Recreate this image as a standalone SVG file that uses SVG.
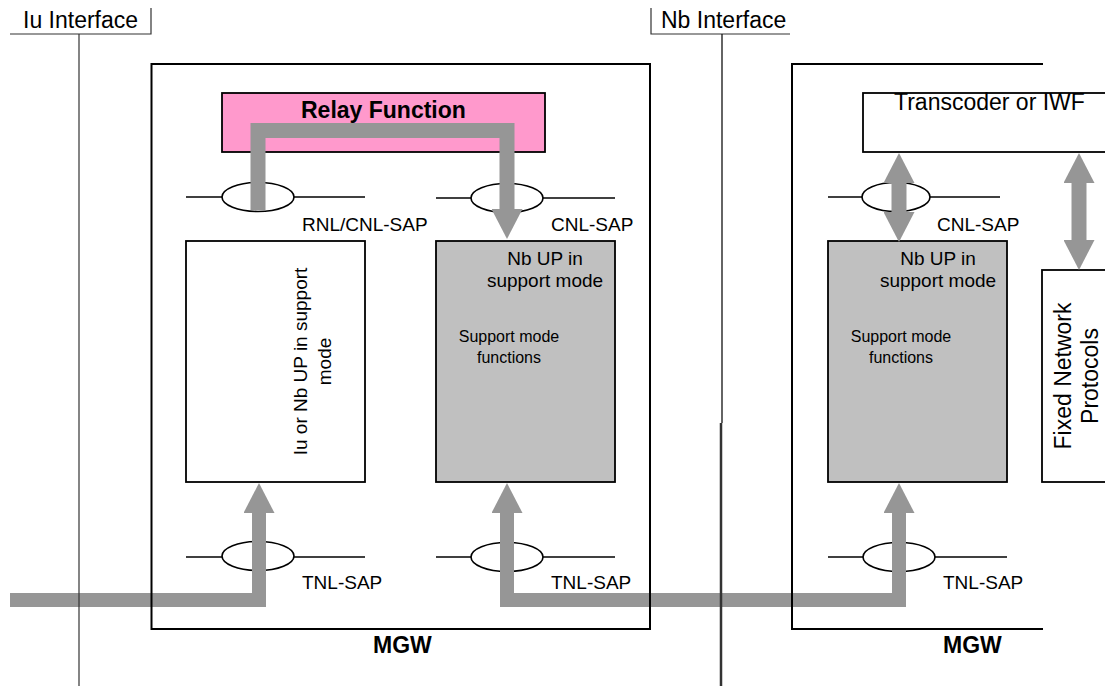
<svg xmlns="http://www.w3.org/2000/svg" width="1105" height="686" viewBox="0 0 1105 686">
<style>
text{font-family:"Liberation Sans",Arial,sans-serif;fill:#000}
.big{font-size:23px}
.bold{font-size:23px;font-weight:bold}
.lbl{font-size:19px}
.sm{font-size:16px}
.box{stroke:#000;stroke-width:1.8}
.wb{fill:#fff}
.gb{fill:#C0C0C0}
.sap{stroke:#000;stroke-width:1.6;fill:none}
.ell{stroke:#000;stroke-width:1.6;fill:#fff}
.pipe{fill:none;stroke:#969696;stroke-linejoin:miter;stroke-linecap:butt}
.frame{fill:none;stroke:#000;stroke-width:2}
.if{fill:none;stroke:#333;stroke-width:1.2}
</style>
<defs>
<marker id="ah" markerUnits="userSpaceOnUse" viewBox="0 0 30 31" markerWidth="30" markerHeight="31" refX="0" refY="15.5" orient="auto-start-reverse">
<path d="M0,0 L30,15.5 L0,31 z" fill="#969696"/>
</marker>
</defs>

<g id="relay">
<rect class="box" x="222" y="93" width="323" height="59" fill="#FF99CC"/>
<text class="bold" x="301" y="118">Relay Function</text>
</g>
<g id="transcoder">
<rect class="box wb" x="863" y="93" width="260" height="59"/>
<text class="big" x="894" y="110">Transcoder or IWF</text>
</g>
<g id="iu-up">
<rect class="box wb" x="186" y="241" width="179" height="241"/>
<text class="lbl" text-anchor="middle" transform="translate(307,361.5) rotate(-90)">Iu or Nb UP in support</text>
<text class="lbl" text-anchor="middle" transform="translate(331,361.5) rotate(-90)">mode</text>
</g>
<g id="nb-up-left">
<rect class="box gb" x="436" y="241" width="179" height="241"/>
<text class="lbl" text-anchor="middle" x="545" y="265">Nb UP in</text>
<text class="lbl" text-anchor="middle" x="545" y="287">support mode</text>
<text class="sm" text-anchor="middle" x="509" y="342">Support mode</text>
<text class="sm" text-anchor="middle" x="509" y="363">functions</text>
</g>
<g id="nb-up-right">
<rect class="box gb" x="828" y="241" width="179" height="241"/>
<text class="lbl" text-anchor="middle" x="938" y="265">Nb UP in</text>
<text class="lbl" text-anchor="middle" x="938" y="287">support mode</text>
<text class="sm" text-anchor="middle" x="901" y="342">Support mode</text>
<text class="sm" text-anchor="middle" x="901" y="363">functions</text>
</g>
<g id="fixed">
<rect class="box wb" x="1042" y="270" width="80" height="212"/>
<text class="big" text-anchor="middle" transform="translate(1071,376) rotate(-90)">Fixed Network</text>
<text class="big" text-anchor="middle" transform="translate(1098,376) rotate(-90)">Protocols</text>
</g>

<g id="saps">
<line class="sap" x1="186" y1="197" x2="365" y2="197"/>
<ellipse class="ell" cx="258" cy="197" rx="36" ry="14.5"/>
<line class="sap" x1="436" y1="198" x2="615" y2="198"/>
<ellipse class="ell" cx="507" cy="198" rx="36" ry="14.5"/>
<line class="sap" x1="828" y1="197" x2="1000" y2="197"/>
<ellipse class="ell" cx="896" cy="197" rx="34" ry="14.5"/>
<line class="sap" x1="186" y1="557" x2="365" y2="557"/>
<ellipse class="ell" cx="258" cy="556" rx="36" ry="14.5"/>
<line class="sap" x1="436" y1="557" x2="615" y2="557"/>
<ellipse class="ell" cx="507" cy="557" rx="36" ry="14.5"/>
<line class="sap" x1="828" y1="557" x2="1007" y2="557"/>
<ellipse class="ell" cx="899" cy="557" rx="36" ry="14.5"/>
<text class="lbl" x="302" y="231">RNL/CNL-SAP</text>
<text class="lbl" x="551" y="231">CNL-SAP</text>
<text class="lbl" x="937" y="231">CNL-SAP</text>
<text class="lbl" x="302" y="589">TNL-SAP</text>
<text class="lbl" x="551" y="589">TNL-SAP</text>
<text class="lbl" x="943" y="589">TNL-SAP</text>
</g>

<g id="connectors">
<path class="pipe" stroke-width="15" d="M258,210 V130.5 H507 V209" marker-end="url(#ah)"/>
<path class="pipe" stroke-width="14" d="M10,600 H259 V513" marker-end="url(#ah)"/>
<path class="pipe" stroke-width="14" d="M507,513 V600 H899 V513" marker-start="url(#ah)" marker-end="url(#ah)"/>
<path class="pipe" stroke-width="15" d="M899,183 V212" marker-start="url(#ah)" marker-end="url(#ah)"/>
<path class="pipe" stroke-width="15" d="M1079,183 V240" marker-start="url(#ah)" marker-end="url(#ah)"/>
</g>

<g id="mgw-left">
<rect class="frame" x="151.5" y="64" width="498.5" height="565"/>
<text class="bold" x="373" y="653">MGW</text>
</g>
<g id="mgw-right">
<path class="frame" d="M1043,64 H792 V629 H1043"/>
<text class="bold" x="943" y="653">MGW</text>
</g>

<g id="iu-interface">
<path class="if" d="M10,34 H151 V8"/>
<line class="if" x1="79" y1="34" x2="79" y2="686"/>
<text class="big" x="23" y="28">Iu Interface</text>
</g>
<g id="nb-interface">
<path class="if" d="M651,8 V34 H790"/>
<line stroke="#111" stroke-width="1.3" x1="722" y1="34" x2="722" y2="423"/>
<line stroke="#333" stroke-width="2.5" x1="721" y1="423" x2="721" y2="686"/>
<text class="big" x="661" y="28">Nb Interface</text>
</g>
</svg>
